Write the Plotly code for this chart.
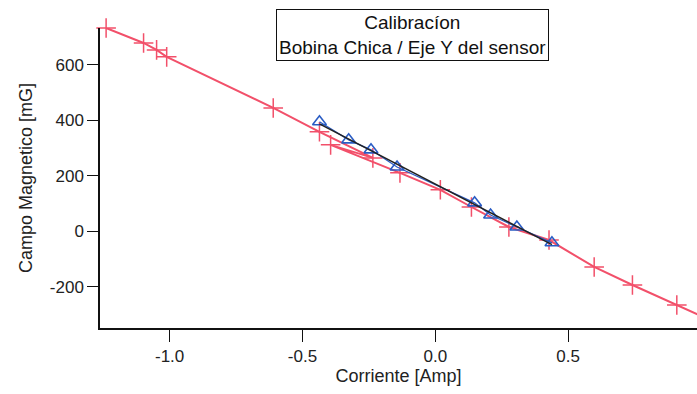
import numpy as np
import plotly.graph_objects as go

# Red series (crosses) in measurement order
red_x = [-1.239, -1.098, -1.049, -1.011, -0.610, -0.436, -0.235, -0.394, -0.133,
         0.019, 0.136, 0.277, 0.428, 0.598, 0.742, 0.909, 1.06]
red_y = [733, 679, 654, 629, 445, 359, 265, 312, 211,
         150, 88, 16, -31, -128, -193, -265, -330]

# Blue series (open triangles)
blue_x = [-0.436, -0.326, -0.242, -0.144, 0.148, 0.208, 0.307, 0.439]
blue_y = [395, 330, 294, 232, 103, 59, 16, -41]

x_ticks = [-1.0, -0.5, 0.0, 0.5]
x_ticklabels = ["-1.0", "-0.5", "0.0", "0.5"]
y_ticks = [-200, 0, 200, 400, 600]
y_ticklabels = ["-200", "0", "200", "400", "600"]

# Linear fit of blue data
coef = np.polyfit(blue_x, blue_y, 1)
fit_x = np.array([min(blue_x), max(blue_x)])
fit_y = np.polyval(coef, fit_x)

RED = "#f2506a"
BLUE = "#2a5cc4"

fig = go.Figure()
fig.add_trace(go.Scatter(
    x=red_x, y=red_y, mode="lines+markers",
    line=dict(color=RED, width=2),
    marker=dict(symbol="cross-thin-open", size=14, line=dict(color=RED, width=1.5)),
    cliponaxis=False, showlegend=False))
fig.add_trace(go.Scatter(
    x=blue_x, y=blue_y, mode="lines+markers",
    line=dict(color=BLUE, width=1.3),
    marker=dict(symbol="triangle-up-open", size=12, line=dict(color=BLUE, width=1.6)),
    showlegend=False))
fig.add_trace(go.Scatter(
    x=fit_x, y=fit_y, mode="lines",
    line=dict(color="#222222", width=1.5),
    showlegend=False))

font = "Liberation Sans, Arial, sans-serif"
fig.update_layout(
    width=697, height=394,
    margin=dict(l=100, r=0, t=28, b=66),
    paper_bgcolor="white", plot_bgcolor="white",
    font=dict(family=font, size=17, color="#222222"),
    xaxis=dict(
        range=[-1.262, 0.985], tickvals=x_ticks, ticktext=x_ticklabels,
        showgrid=False, zeroline=False, showline=True, linecolor="#111111", linewidth=1.5,
        ticks="outside", ticklen=12, tickwidth=1, tickcolor="#111111",
        tickfont=dict(size=17),
        title=dict(text="Corriente [Amp]", standoff=2, font=dict(size=18)),
    ),
    yaxis=dict(
        range=[-348, 733], tickvals=y_ticks, ticktext=y_ticklabels,
        showgrid=False, zeroline=False, showline=True, linecolor="#111111", linewidth=1.5,
        ticks="outside", ticklen=11, tickwidth=1, tickcolor="#111111",
        tickfont=dict(size=17),
        title=dict(text="Campo Magnetico [mG]", standoff=13, font=dict(size=18)),
    ),
    annotations=[dict(
        text="Calibracíon<br>Bobina Chica / Eje Y del sensor",
        xref="paper", yref="paper", x=0.524, y=0.976, xanchor="center", yanchor="middle",
        showarrow=False, align="center",
        font=dict(family=font, size=19, color="#111111"),
        bordercolor="#111111", borderwidth=1, borderpad=2, bgcolor="white",
    )],
)
fig.write_html("out.html")
